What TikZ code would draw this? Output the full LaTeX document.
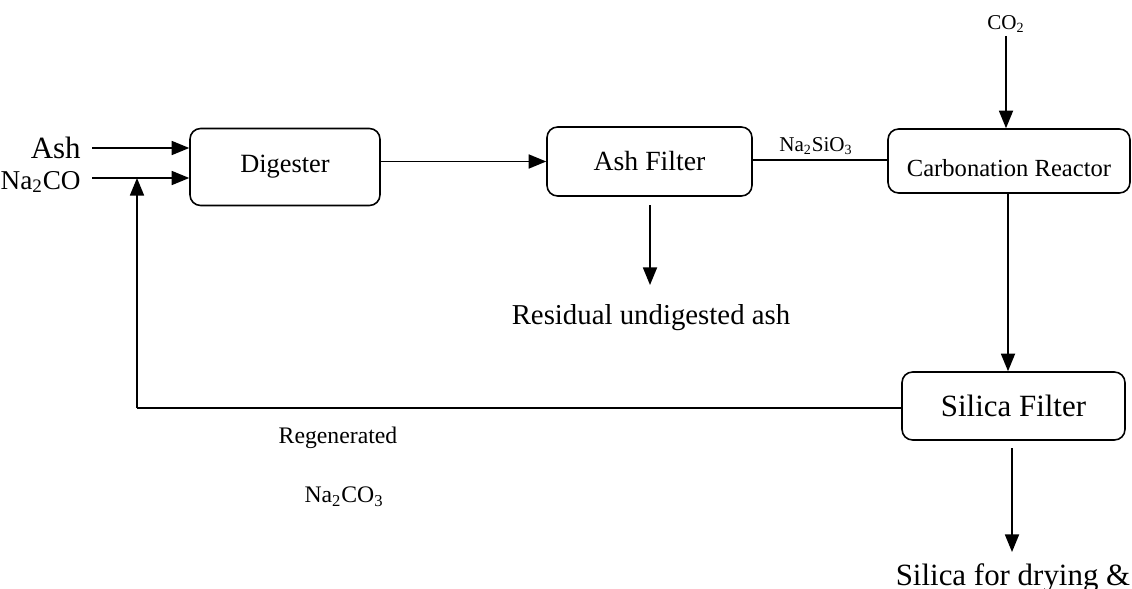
\documentclass[tikz,border=0pt]{standalone}
\usepackage{fontspec}
\setmainfont{Liberation Serif}
\usetikzlibrary{arrows.meta}
\begin{document}
\begin{tikzpicture}[x=0.02cm,y=-0.02cm,
  box/.style={draw,line width=0.9pt,rounded corners=6pt,inner sep=0pt},
  flow/.style={line width=0.9pt,-{Triangle[length=10pt,width=8pt]}},
  plain/.style={line width=0.9pt},
  lbl/.style={inner sep=0pt}]
\useasboundingbox (0,0) rectangle (1132,588);
% boxes
\node[box,minimum width=3.8cm,minimum height=1.54cm,font=\fontsize{15}{18}\selectfont] (dig) at (285,167) {Digester};
\node[box,minimum width=4.1cm,minimum height=1.38cm,font=\fontsize{15.8}{19}\selectfont] (af) at (649.5,161.5) {Ash Filter};
\node[box,minimum width=4.84cm,minimum height=1.28cm,font=\fontsize{14}{17}\selectfont] (cr) at (1009,161) {\raisebox{-9pt}[0pt][0pt]{Carbonation Reactor}};
\node[box,minimum width=4.46cm,minimum height=1.36cm,font=\fontsize{17.6}{21}\selectfont] (sf) at (1013.5,406) {Silica Filter};
% labels
\node[lbl,anchor=east,font=\fontsize{17.6}{21}\selectfont] (ash) at (81,148) {Ash};
\node[lbl,anchor=east,font=\fontsize{15.5}{18}\selectfont] (na) at (81,182) {Na\textsubscript{2}CO};
\node[lbl,font=\fontsize{12}{14}\selectfont] (co2) at (1006,24) {CO\textsubscript{2}};
\node[lbl,font=\fontsize{12}{14}\selectfont] (nasio) at (816,146) {Na\textsubscript{2}SiO\textsubscript{3}};
\node[lbl,font=\fontsize{16.4}{20}\selectfont] (res) at (651,318) {Residual undigested ash};
\node[lbl,font=\fontsize{13.5}{16}\selectfont] (regen) at (338,438) {Regenerated};
\node[lbl,font=\fontsize{13.5}{16}\selectfont] (naco3) at (344,497) {Na\textsubscript{2}CO\textsubscript{3}};
\node[lbl,anchor=north,font=\fontsize{17.6}{21}\selectfont] (out) at (1013,563) {Silica for drying \&};
% coordinates
\coordinate (ashs) at (92,148);
\coordinate (nas) at (92,178);
\coordinate (j) at (137,178);
\coordinate (jb) at (137,408);
\coordinate (rese) at (650,285);
\coordinate (oute) at (1012,552);
% connectors
\draw[flow] (ashs) -- (ashs -| dig.west);
\draw[flow] (nas) -- (nas -| dig.west);
\draw[flow] (dig.east |- af.west) -- (af.west);
\draw[plain] (af.east |- 0,160) -- (cr.west |- 0,160);
\draw[flow] (co2.south) ++(0,3) -- (co2.south |- cr.north);
\draw[flow] (cr.south -| 1008,0) -- (sf.north -| 1008,0);
\draw[flow] (650,205) -- (rese);
\draw[flow] (1012,448) -- (oute);
\draw[plain] (sf.west |- jb) -- (jb);
\draw[flow] (jb) -- (j);
\end{tikzpicture}
\end{document}
